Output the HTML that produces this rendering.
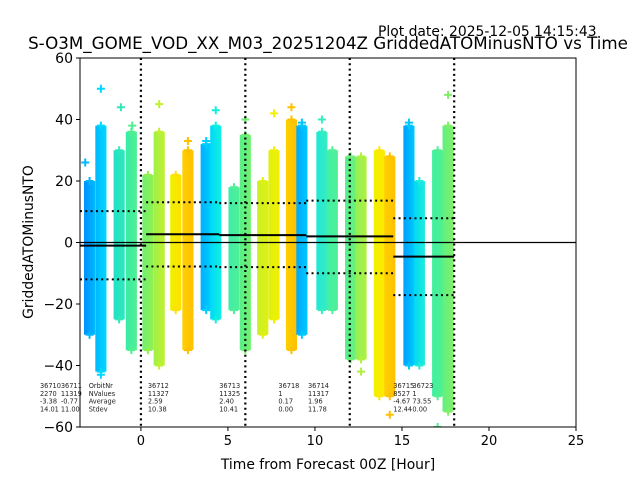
<!DOCTYPE html>
<html><head><meta charset="utf-8"><style>
body{margin:0;background:#fff;}
svg{display:block;font-family:"DejaVu Sans","Liberation Sans",sans-serif;}
</style></head><body>
<svg id="chart" width="640" height="480" viewBox="0 0 640 480">
<text x="378" y="36" font-size="13.9">Plot date: 2025-12-05 14:15:43</text>
<text x="328" y="49" font-size="16.7" text-anchor="middle">S-O3M_GOME_VOD_XX_M03_20251204Z GriddedATOMinusNTO vs Time</text>
<text x="33" y="242" font-size="13.9" text-anchor="middle" transform="rotate(-90 33 242)">GriddedATOMinusNTO</text>
<text x="328" y="469" font-size="13.9" text-anchor="middle">Time from Forecast 00Z [Hour]</text>
<g id="marks"></g>
<g id="ann"></g>
<g id="axes"></g>
</svg>
<script>
const colHours=[-2.95,-2.3,-1.25,-0.55,0.4,1.05,2.0,2.7,3.75,4.3,5.35,6.0,7.0,7.65,8.65,9.25,10.4,11.0,12.05,12.65,13.7,14.3,15.4,16.0,17.05,17.65];
const colTops=[20,38,30,36,22,36,22,30,32,38,18,35,20,30,40,38,36,30,28,28,30,28,38,20,30,38];
const colBottoms=[-30,-42,-25,-35,-35,-40,-22,-35,-22,-25,-22,-35,-30,-25,-35,-30,-22,-22,-38,-38,-50,-50,-40,-40,-50,-55];
const colColors=[["#0090ff","#00b8ff"],["#00b8ff","#00d8ff"],["#20e0c8","#30e8b8"],["#38eca8","#50f090"],["#70f070","#90f050"],["#a0f048","#c0f030"],["#f0f000","#ffe000"],["#ffd000","#ffc000"],["#00b0ff","#00d0ff"],["#00d8f8","#10f0e0"],["#40eca8","#50f098"],["#58f088","#70f070"],["#c8f028","#e0f010"],["#e0f010","#f0f000"],["#ffd000","#ffc000"],["#00a8ff","#00c8ff"],["#20e8d8","#38ecc0"],["#40f0a8","#50f098"],["#50f090","#70f078"],["#90f058","#b0f040"],["#f0f000","#ffe800"],["#ffd000","#ffc000"],["#00a0ff","#00c8ff"],["#00d8f8","#20ecd8"],["#40f0a0","#50f090"],["#60f080","#80f068"]];
const outlierX=[-3.2,-2.3,-1.15,-0.5,1.05,2.7,3.75,4.3,6.0,7.65,8.65,9.25,10.4,15.4,17.65,14.3,12.65,-2.3,17.05];
const outlierY=[26,50,44,38,45,33,33,43,40,42,44,39,40,39,48,-56,-42,-43,-60];
const segStart=[-3.5,0.3,4.5,9.5,14.5];
const segEnd=[0.3,4.5,9.5,14.5,18];
const segMean=[-1,2.7,2.4,2.0,-4.6];
const segUpper=[10.2,13.1,12.8,13.6,7.9];
const segLower=[-12,-7.8,-8,-10,-17.1];
const vLines=[0,6,12,18];
const yTicks=[-60,-40,-20,0,20,40,60];
const xTicks=[0,5,10,15,20,25];
const annX=[-5.8,-4.6,-3.0,0.4,4.5,7.9,9.6,14.5,15.6];
const annLines=[["36710","2270","-3.38","14.01"],["36711","11319","-0.77","11.00"],["OrbitNr","NValues","Average","Stdev"],["36712","11327","2.59","10.38"],["36713","11325","2.40","10.41"],["36718","1","0.17","0.00"],["36714","11317","1.96","11.78"],["36715","8527","-4.67","12.44"],["36723","1","73.55","0.00"]];

const L=80,R=576,T=58,B=427,X0=-3.5,X1=25,Y0=-60,Y1=60;
const xs=v=>L+(v-X0)/(X1-X0)*(R-L);
const ys=v=>B-(v-Y0)/(Y1-Y0)*(B-T);
const NS="http://www.w3.org/2000/svg";
const svg=document.getElementById('chart'),marks=document.getElementById('marks'),axes=document.getElementById('axes'),ann=document.getElementById('ann');
function mk(tag,at,par){const e=document.createElementNS(NS,tag);for(const k in at)e.setAttribute(k,at[k]);par.appendChild(e);return e;}
const defs=mk('defs',{},svg);
const clip=mk('clipPath',{id:'pc'},defs);mk('rect',{x:L,y:T,width:R-L,height:B-T},clip);
marks.setAttribute('clip-path','url(#pc)');
colHours.forEach((h,i)=>{
 const g=mk('linearGradient',{id:'g'+i,x1:0,x2:1,y1:0,y2:0},defs);
 mk('stop',{offset:0,'stop-color':colColors[i][0]},g);mk('stop',{offset:1,'stop-color':colColors[i][1]},g);
 const w=0.64*(R-L)/(X1-X0);
 const r=mk('rect',{x:xs(h)-w/2,y:ys(colTops[i]),width:w,height:ys(colBottoms[i])-ys(colTops[i]),fill:'url(#g'+i+')'},marks);
 
 
 [colTops[i],colBottoms[i]].forEach(v=>{
  const p=mk('path',{d:`M${xs(h)-4},${ys(v)}h8M${xs(h)},${ys(v)-4}v8`,stroke:colColors[i][1],'stroke-width':2},marks);
  
  
 });
});
outlierX.forEach((h,i)=>{
 let ci=0,best=1e9;colHours.forEach((c,j)=>{if(Math.abs(c-h)<best){best=Math.abs(c-h);ci=j;}});
 const p=mk('path',{d:`M${xs(h)-4},${ys(outlierY[i])}h8M${xs(h)},${ys(outlierY[i])-4}v8`,stroke:colColors[ci][1],'stroke-width':2},marks);
 
 
});
const z=mk('line',{x1:L,x2:R,y1:ys(0),y2:ys(0),stroke:'#000','stroke-width':1.2},marks);


segStart.forEach((s,i)=>{
 const m=mk('line',{x1:xs(s),x2:xs(segEnd[i]),y1:ys(segMean[i]),y2:ys(segMean[i]),stroke:'#000','stroke-width':2},marks);
 
 
 [segUpper[i],segLower[i]].forEach(v=>{
  const d=mk('line',{x1:xs(s),x2:xs(segEnd[i]),y1:ys(v),y2:ys(v),stroke:'#000','stroke-width':2,'stroke-dasharray':'2,3.3'},marks);
  
  
 });
});
vLines.forEach(h=>{
 const v=mk('line',{x1:xs(h),x2:xs(h),y1:T,y2:B,stroke:'#000','stroke-width':2.2,'stroke-dasharray':'2,3.3'},marks);
 
 
});
annX.forEach((h,i)=>{
 annLines[i].forEach((t,k)=>{
  const e=mk('text',{x:xs(h),y:388+k*7.8,'font-size':6.6,fill:'#222'},ann);
  e.textContent=t;
  
  
 });
});
const fr=mk('rect',{x:L,y:T,width:R-L,height:B-T,fill:'none',stroke:'#000','stroke-width':1},axes);


yTicks.forEach(v=>{
 mk('line',{x1:L-4,x2:L,y1:ys(v),y2:ys(v),stroke:'#000'},axes);
 const t=mk('text',{x:L-7,y:ys(v)+5,'font-size':14,'text-anchor':'end'},axes);
 t.textContent=v<0?'\u2212'+(-v):v;
 
 
});
xTicks.forEach(v=>{
 mk('line',{x1:xs(v),x2:xs(v),y1:B,y2:B+4,stroke:'#000'},axes);
 const t=mk('text',{x:xs(v),y:B+18,'font-size':13,'text-anchor':'middle'},axes);
 t.textContent=v;
 
 
});
</script>
</body></html>
